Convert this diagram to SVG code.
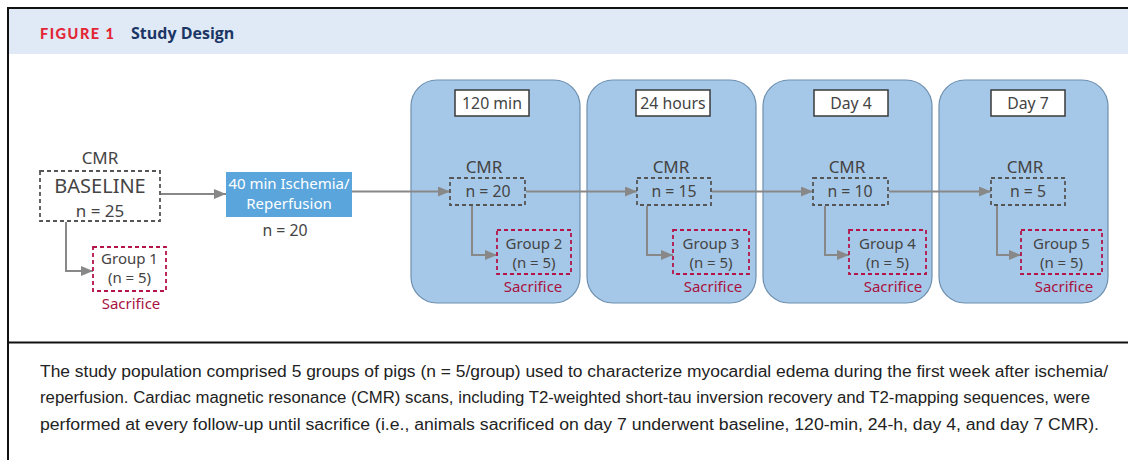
<svg xmlns="http://www.w3.org/2000/svg" width="1128" height="460" viewBox="0 0 1128 460">
<defs>
<style>
.t{font-family:"Noto Sans","Open Sans","Liberation Sans",sans-serif;fill:#444;text-anchor:middle}
.cmr{font-size:17px}
.n{font-size:15.8px}
.g{font-size:15px}
.sac{font-family:"Noto Sans","Open Sans","Liberation Sans",sans-serif;fill:#a8123f;font-size:15px;text-anchor:middle}
.panel{fill:#a6c8e8;stroke:#6d8fae;stroke-width:1.2}
.lbl{fill:#fff;stroke:#3a3a3a;stroke-width:1.5}
.dash{fill:none;stroke:#555;stroke-width:1.8;stroke-dasharray:4 3}
.rdash{fill:none;stroke:#b3154a;stroke-width:1.8;stroke-dasharray:4 3}
.ln{fill:none;stroke:#888;stroke-width:2}
.cap{font-family:"Liberation Sans",Arial,sans-serif;font-size:16px;fill:#222}
</style>
<marker id="ah" viewBox="0 0 12 10" refX="12" refY="5" markerWidth="12" markerHeight="10" markerUnits="userSpaceOnUse" orient="auto">
<path d="M0,0 L12,5 L0,10 Z" fill="#888"/>
</marker>
</defs>
<rect x="0" y="0" width="1128" height="460" fill="#fff"/>
<g id="frame">
<rect x="9" y="9" width="1119" height="45" fill="#dfeaf6"/>
<path d="M8,460 V8 H1128" fill="none" stroke="#111" stroke-width="2"/>
<line x1="8" y1="342.5" x2="1128" y2="342.5" stroke="#111" stroke-width="2"/>
<text x="40" y="38.5" font-family="Lato,'Liberation Sans',sans-serif" font-weight="900" font-size="14.5" fill="#e32636" letter-spacing="1.5">FIGURE 1</text>
<text x="131" y="38.5" font-family="'Open Sans','Liberation Sans',sans-serif" font-weight="bold" font-size="16" fill="#1b3665">Study Design</text>
</g>
<g id="panels">
<rect id="p1" class="panel" x="411" y="80" width="169" height="223" rx="26"/>
<rect id="p2" class="panel" x="587" y="80" width="169" height="223" rx="26"/>
<rect id="p3" class="panel" x="763" y="80" width="169" height="223" rx="26"/>
<rect id="p4" class="panel" x="939" y="80" width="169" height="223" rx="26"/>
</g>
<g id="connectors">
<line class="ln" x1="161" y1="194" x2="226" y2="194" marker-end="url(#ah)"/>
<path class="ln" d="M66,222 V271 H93" marker-end="url(#ah)"/>
<line class="ln" x1="352" y1="191.5" x2="450" y2="191.5" marker-end="url(#ah)"/>
<path class="ln" d="M472,206 V255 H497" marker-end="url(#ah)"/>
<line class="ln" x1="526" y1="191.5" x2="637" y2="191.5" marker-end="url(#ah)"/>
<path class="ln" d="M647,206 V255 H673" marker-end="url(#ah)"/>
<line class="ln" x1="712" y1="191.5" x2="813" y2="191.5" marker-end="url(#ah)"/>
<path class="ln" d="M825,206 V255 H849" marker-end="url(#ah)"/>
<line class="ln" x1="889" y1="191.5" x2="991" y2="191.5" marker-end="url(#ah)"/>
<path class="ln" d="M997,206 V255 H1021" marker-end="url(#ah)"/>
</g>
<g id="baseline">
<text class="t cmr" x="100" y="164">CMR</text>
<rect class="dash" x="40" y="171" width="120" height="50"/>
<text class="t" x="100" y="192.5" font-size="20">BASELINE</text>
<text class="t" x="100" y="216.5" font-size="17">n = 25</text>
</g>
<g id="group1">
<rect class="rdash" x="93" y="247" width="73" height="44"/>
<text class="t g" x="129.5" y="264">Group 1</text>
<text class="t g" x="129.5" y="283">(n = 5)</text>
<text class="sac" x="131" y="309">Sacrifice</text>
</g>
<g id="ischemia">
<rect x="226" y="172" width="126" height="45" fill="#5aa6dc"/>
<text class="t" x="289" y="189" font-size="15" style="fill:#fff">40 min Ischemia/</text>
<text class="t" x="289" y="209" font-size="15" style="fill:#fff">Reperfusion</text>
<text class="t n" x="285" y="236">n = 20</text>
</g>
<g id="t120">
<rect class="lbl" x="455" y="90" width="74" height="26"/>
<text class="t n" x="492" y="109">120 min</text>
<text class="t cmr" x="484" y="173">CMR</text>
<rect class="dash" x="450" y="178" width="75" height="27"/>
<text class="t n" x="488" y="197">n = 20</text>
</g>
<g id="group2">
<rect class="rdash" x="497" y="230" width="74" height="44"/>
<text class="t g" x="534" y="249">Group 2</text>
<text class="t g" x="534" y="268">(n = 5)</text>
<text class="sac" x="533" y="292">Sacrifice</text>
</g>
<g id="t24">
<rect class="lbl" x="636" y="90" width="74" height="26"/>
<text class="t n" x="673" y="109">24 hours</text>
<text class="t cmr" x="671" y="173">CMR</text>
<rect class="dash" x="637" y="178" width="74" height="27"/>
<text class="t n" x="674" y="197">n = 15</text>
</g>
<g id="group3">
<rect class="rdash" x="673" y="230" width="76" height="44"/>
<text class="t g" x="711" y="249">Group 3</text>
<text class="t g" x="711" y="268">(n = 5)</text>
<text class="sac" x="713" y="292">Sacrifice</text>
</g>
<g id="day4">
<rect class="lbl" x="814" y="90" width="74" height="26"/>
<text class="t n" x="851" y="109">Day 4</text>
<text class="t cmr" x="847" y="173">CMR</text>
<rect class="dash" x="813" y="178" width="75" height="27"/>
<text class="t n" x="850" y="197">n = 10</text>
</g>
<g id="group4">
<rect class="rdash" x="849" y="230" width="77" height="44"/>
<text class="t g" x="887.5" y="249">Group 4</text>
<text class="t g" x="887.5" y="268">(n = 5)</text>
<text class="sac" x="893" y="292">Sacrifice</text>
</g>
<g id="day7">
<rect class="lbl" x="991" y="90" width="74" height="26"/>
<text class="t n" x="1028" y="109">Day 7</text>
<text class="t cmr" x="1025" y="173">CMR</text>
<rect class="dash" x="991" y="178" width="74" height="27"/>
<text class="t n" x="1028" y="197">n = 5</text>
</g>
<g id="group5">
<rect class="rdash" x="1021" y="230" width="81" height="44"/>
<text class="t g" x="1061.5" y="249">Group 5</text>
<text class="t g" x="1061.5" y="268">(n = 5)</text>
<text class="sac" x="1064" y="292">Sacrifice</text>
</g>
<g id="caption">
<text class="cap" x="40" y="377" textLength="1068" lengthAdjust="spacingAndGlyphs">The study population comprised 5 groups of pigs (n = 5/group) used to characterize myocardial edema during the first week after ischemia/</text>
<text class="cap" x="40" y="403" textLength="1050" lengthAdjust="spacingAndGlyphs">reperfusion. Cardiac magnetic resonance (CMR) scans, including T2-weighted short-tau inversion recovery and T2-mapping sequences, were</text>
<text class="cap" x="40" y="430" textLength="1059" lengthAdjust="spacingAndGlyphs">performed at every follow-up until sacrifice (i.e., animals sacrificed on day 7 underwent baseline, 120-min, 24-h, day 4, and day 7 CMR).</text>
</g>
</svg>
